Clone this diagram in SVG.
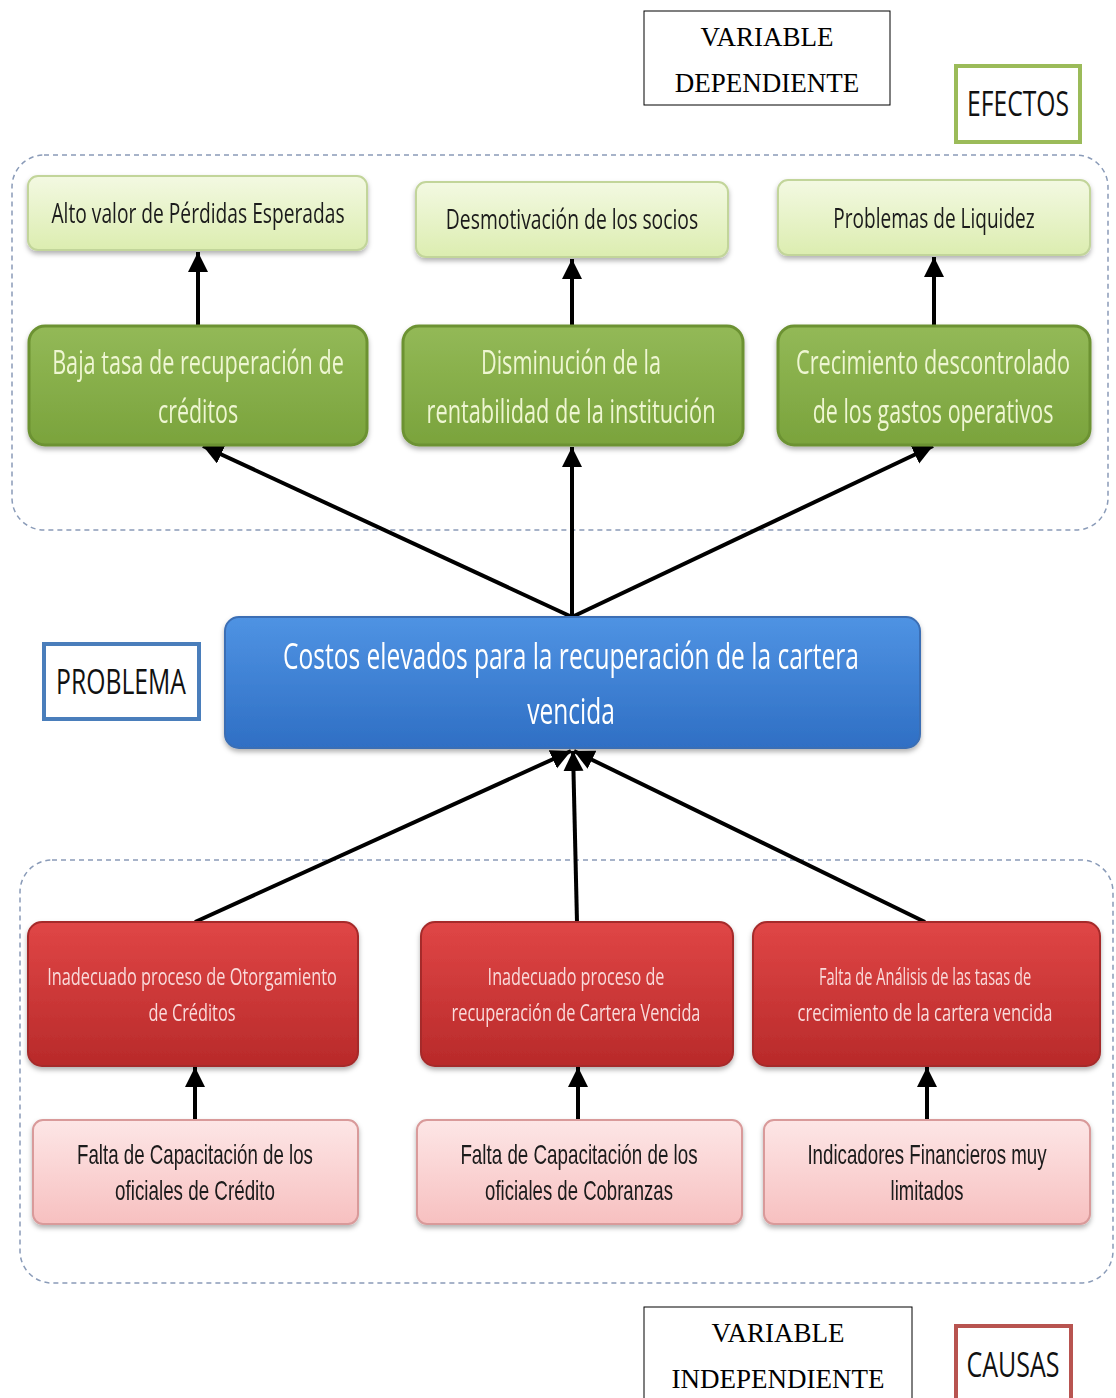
<svg xmlns="http://www.w3.org/2000/svg" width="1116" height="1398" viewBox="0 0 1116 1398">
  <style>
    .cal { font-family: "Open Sans", "Noto Sans", "Liberation Sans", sans-serif; text-anchor: middle; }
    .narrow { font-family: "Liberation Sans", Arial, sans-serif; text-anchor: middle; }
    .serif { font-family: "Liberation Serif", "Times New Roman", serif; text-anchor: middle; font-size: 27px; fill: #000; }
    .frame { fill: none; stroke: #8a9bb8; stroke-width: 1.5; stroke-dasharray: 5 4; }
    .lg { fill: url(#gLight); stroke: #c2d59a; stroke-width: 2; }
    .dg { fill: url(#gDark); stroke: #6c9233; stroke-width: 3; }
    .bl { fill: url(#gBlue); stroke: #3b6eb4; stroke-width: 2; }
    .rd { fill: url(#gRed); stroke: #a52a2a; stroke-width: 2; }
    .pk { fill: url(#gPink); stroke: #d99a9a; stroke-width: 2; }
    .conn { stroke: #000; stroke-width: 4; fill: none; marker-end: url(#arrow); }
    .t1 { font-size: 28px; fill: #1a1a1a; }
    .t2 { font-size: 32px; fill: #eef6d2; }
    .t3 { font-size: 36px; fill: #fff; }
    .t4 { font-size: 24px; fill: #f9dada; }
    .t5 { font-size: 27px; fill: #1a1a1a; }
    .tag { font-size: 34px; fill: #111; }
  </style>
  <defs>
    <linearGradient id="gLight" x1="0" y1="0" x2="0" y2="1">
      <stop offset="0" stop-color="#f3f9e2"/>
      <stop offset="1" stop-color="#dcedb0"/>
    </linearGradient>
    <linearGradient id="gDark" x1="0" y1="0" x2="0" y2="1">
      <stop offset="0" stop-color="#93b957"/>
      <stop offset="1" stop-color="#7aa33c"/>
    </linearGradient>
    <linearGradient id="gBlue" x1="0" y1="0" x2="0" y2="1">
      <stop offset="0" stop-color="#4f93e3"/>
      <stop offset="1" stop-color="#2f6fc4"/>
    </linearGradient>
    <linearGradient id="gRed" x1="0" y1="0" x2="0" y2="1">
      <stop offset="0" stop-color="#e04646"/>
      <stop offset="1" stop-color="#b82a2a"/>
    </linearGradient>
    <linearGradient id="gPink" x1="0" y1="0" x2="0" y2="1">
      <stop offset="0" stop-color="#fde6e6"/>
      <stop offset="1" stop-color="#f7c0c0"/>
    </linearGradient>
    <filter id="shadow" x="-5%" y="-10%" width="110%" height="130%">
      <feDropShadow dx="0" dy="3" stdDeviation="2.5" flood-color="#000" flood-opacity="0.3"/>
    </filter>
    <marker id="arrow" markerUnits="userSpaceOnUse" markerWidth="22" markerHeight="22" refX="20" refY="10" orient="auto">
      <path d="M0,0 L20,10 L0,20 Z" fill="#000"/>
    </marker>
  </defs>

  <!-- dashed frames -->
  <rect class="frame" x="12" y="155" width="1096" height="375" rx="32"/>
  <rect class="frame" x="20" y="860" width="1093" height="423" rx="32"/>

  <!-- connectors -->
  <g id="connectors">
    <line class="conn" x1="198" y1="325" x2="198" y2="252"/>
    <line class="conn" x1="572" y1="325" x2="572" y2="259"/>
    <line class="conn" x1="934" y1="325" x2="934" y2="257"/>
    <line class="conn" x1="572" y1="617" x2="203" y2="446"/>
    <line class="conn" x1="572" y1="617" x2="572" y2="447"/>
    <line class="conn" x1="572" y1="617" x2="933" y2="446"/>
    <line class="conn" x1="195" y1="922" x2="571" y2="751"/>
    <line class="conn" x1="577" y1="922" x2="573" y2="751"/>
    <line class="conn" x1="925" y1="922" x2="574" y2="751"/>
    <line class="conn" x1="195" y1="1120" x2="195" y2="1067"/>
    <line class="conn" x1="578" y1="1120" x2="578" y2="1067"/>
    <line class="conn" x1="927" y1="1120" x2="927" y2="1067"/>
  </g>

  <!-- labels -->
  <g id="var-dep">
    <rect x="644" y="11" width="246" height="94" fill="#fff" stroke="#000" stroke-width="1"/>
    <text class="serif" x="767" y="46">VARIABLE</text>
    <text class="serif" x="767" y="92">DEPENDIENTE</text>
  </g>
  <g id="efectos">
    <rect x="956" y="66" width="124" height="76" fill="#fff" stroke="#9bbb59" stroke-width="4"/>
    <text class="cal tag" transform="translate(1018 116) scale(0.68 1)" textLength="150" lengthAdjust="spacingAndGlyphs">EFECTOS</text>
  </g>
  <g id="problema">
    <rect x="44" y="644" width="155" height="75" fill="#fff" stroke="#4a7ebb" stroke-width="4"/>
    <text class="cal tag" transform="translate(121 694) scale(0.68 1)" textLength="191" lengthAdjust="spacingAndGlyphs">PROBLEMA</text>
  </g>
  <g id="var-indep">
    <rect x="644" y="1307" width="268" height="100" fill="#fff" stroke="#000" stroke-width="1"/>
    <text class="serif" x="778" y="1342">VARIABLE</text>
    <text class="serif" x="778" y="1388">INDEPENDIENTE</text>
  </g>
  <g id="causas">
    <rect x="956" y="1326" width="115" height="80" fill="#fff" stroke="#b85450" stroke-width="4"/>
    <text class="cal tag" transform="translate(1013 1377) scale(0.68 1)" textLength="137" lengthAdjust="spacingAndGlyphs">CAUSAS</text>
  </g>

  <!-- effects, first row -->
  <g id="efecto-1" filter="url(#shadow)">
    <rect class="lg" x="28" y="176" width="339" height="74" rx="10"/>
    <text class="cal t1" transform="translate(198 223) scale(0.68 1)" textLength="431" lengthAdjust="spacingAndGlyphs">Alto valor de Pérdidas Esperadas</text>
  </g>
  <g id="efecto-2" filter="url(#shadow)">
    <rect class="lg" x="416" y="182" width="312" height="75" rx="10"/>
    <text class="cal t1" transform="translate(572 229) scale(0.68 1)" textLength="371" lengthAdjust="spacingAndGlyphs">Desmotivación de los socios</text>
  </g>
  <g id="efecto-3" filter="url(#shadow)">
    <rect class="lg" x="778" y="180" width="312" height="75" rx="10"/>
    <text class="cal t1" transform="translate(934 228) scale(0.68 1)" textLength="296" lengthAdjust="spacingAndGlyphs">Problemas de Liquidez</text>
  </g>

  <!-- effects, second row -->
  <g id="efecto-4" filter="url(#shadow)">
    <rect class="dg" x="29" y="326" width="338" height="119" rx="16"/>
    <text class="cal t2" transform="translate(198 374) scale(0.68 1)" textLength="429" lengthAdjust="spacingAndGlyphs">Baja tasa de recuperación de</text>
    <text class="cal t2" transform="translate(198 423) scale(0.68 1)" textLength="118" lengthAdjust="spacingAndGlyphs">créditos</text>
  </g>
  <g id="efecto-5" filter="url(#shadow)">
    <rect class="dg" x="403" y="326" width="340" height="119" rx="16"/>
    <text class="cal t2" transform="translate(571 374) scale(0.68 1)" textLength="265" lengthAdjust="spacingAndGlyphs">Disminución de la</text>
    <text class="cal t2" transform="translate(571 423) scale(0.68 1)" textLength="425" lengthAdjust="spacingAndGlyphs">rentabilidad de la institución</text>
  </g>
  <g id="efecto-6" filter="url(#shadow)">
    <rect class="dg" x="778" y="326" width="312" height="119" rx="16"/>
    <text class="cal t2" transform="translate(933 374) scale(0.68 1)" textLength="403" lengthAdjust="spacingAndGlyphs">Crecimiento descontrolado</text>
    <text class="cal t2" transform="translate(933 423) scale(0.68 1)" textLength="354" lengthAdjust="spacingAndGlyphs">de los gastos operativos</text>
  </g>

  <!-- central problem -->
  <g id="problema-central" filter="url(#shadow)">
    <rect class="bl" x="225" y="617" width="695" height="131" rx="14"/>
    <text class="cal t3" transform="translate(571 669) scale(0.68 1)" textLength="847" lengthAdjust="spacingAndGlyphs">Costos elevados para la recuperación de la cartera</text>
    <text class="cal t3" transform="translate(571 724) scale(0.68 1)" textLength="129" lengthAdjust="spacingAndGlyphs">vencida</text>
  </g>

  <!-- causes -->
  <g id="causa-1" filter="url(#shadow)">
    <rect class="rd" x="28" y="922" width="330" height="144" rx="14"/>
    <text class="cal t4" transform="translate(192 985) scale(0.68 1)" textLength="426" lengthAdjust="spacingAndGlyphs">Inadecuado proceso de Otorgamiento</text>
    <text class="cal t4" transform="translate(192 1021) scale(0.68 1)" textLength="128" lengthAdjust="spacingAndGlyphs">de Créditos</text>
  </g>
  <g id="causa-2" filter="url(#shadow)">
    <rect class="rd" x="421" y="922" width="312" height="144" rx="14"/>
    <text class="cal t4" transform="translate(576 985) scale(0.68 1)" textLength="260" lengthAdjust="spacingAndGlyphs">Inadecuado proceso de</text>
    <text class="cal t4" transform="translate(576 1021) scale(0.68 1)" textLength="366" lengthAdjust="spacingAndGlyphs">recuperación de Cartera Vencida</text>
  </g>
  <g id="causa-3" filter="url(#shadow)">
    <rect class="rd" x="753" y="922" width="347" height="144" rx="14"/>
    <text class="cal t4" transform="translate(925 985) scale(0.68 1)" textLength="312" lengthAdjust="spacingAndGlyphs">Falta de Análisis de las tasas de</text>
    <text class="cal t4" transform="translate(925 1021) scale(0.68 1)" textLength="375" lengthAdjust="spacingAndGlyphs">crecimiento de la cartera vencida</text>
  </g>

  <!-- root causes -->
  <g id="causa-4" filter="url(#shadow)">
    <rect class="pk" x="33" y="1120" width="325" height="104" rx="10"/>
    <text class="narrow t5" transform="translate(195 1164) scale(0.65 1)" textLength="363" lengthAdjust="spacingAndGlyphs">Falta de Capacitación de los</text>
    <text class="narrow t5" transform="translate(195 1200) scale(0.65 1)" textLength="246" lengthAdjust="spacingAndGlyphs">oficiales de Crédito</text>
  </g>
  <g id="causa-5" filter="url(#shadow)">
    <rect class="pk" x="417" y="1120" width="325" height="104" rx="10"/>
    <text class="narrow t5" transform="translate(579 1164) scale(0.65 1)" textLength="365" lengthAdjust="spacingAndGlyphs">Falta de Capacitación de los</text>
    <text class="narrow t5" transform="translate(579 1200) scale(0.65 1)" textLength="289" lengthAdjust="spacingAndGlyphs">oficiales de Cobranzas</text>
  </g>
  <g id="causa-6" filter="url(#shadow)">
    <rect class="pk" x="764" y="1120" width="326" height="104" rx="10"/>
    <text class="narrow t5" transform="translate(927 1164) scale(0.65 1)" textLength="368" lengthAdjust="spacingAndGlyphs">Indicadores Financieros muy</text>
    <text class="narrow t5" transform="translate(927 1200) scale(0.65 1)" textLength="112" lengthAdjust="spacingAndGlyphs">limitados</text>
  </g>
</svg>
